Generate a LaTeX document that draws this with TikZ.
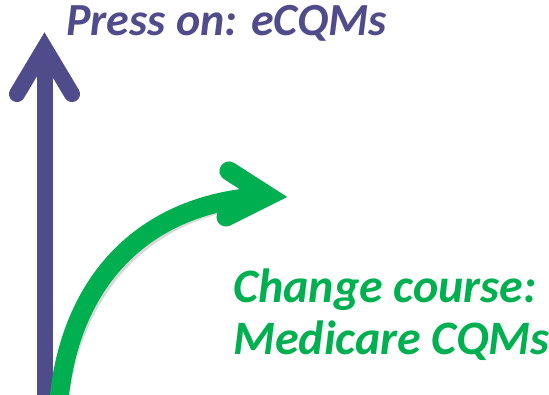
\documentclass[tikz,border=0pt]{standalone}
\usepackage{fontspec}
\setmainfont{Carlito}
\definecolor{vpurple}{RGB}{80,75,139}
\definecolor{vgreen}{RGB}{0,176,80}
\tikzset{
  shaftline/.style={line width=#1, line cap=butt},
  headline/.style={line width=#1, line cap=round, line join=miter, miter limit=20},
  shadowcol/.style={draw=black, opacity=0.15},
  lbl/.style={inner sep=0pt, font=\bfseries\itshape\fontsize{#1}{#1}\selectfont}
}
\begin{document}
\begin{tikzpicture}[x=1pt,y=-1pt]
\useasboundingbox (0,0) rectangle (549,395);
% coordinates
\coordinate (pbot) at (44.5,400);
\coordinate (pv) at (44.5,48);
\coordinate (pb1) at (17,94);
\coordinate (pb2) at (72,94);
\coordinate (gbot) at (59,400);
\coordinate (gv) at (268,196);
\coordinate (gb1) at (229,171);
\coordinate (gb2) at (226,217);
% shadows
\begin{scope}[shift={(3,3)}]
  \draw[shadowcol, shaftline=16] (pbot) -- (pv);
  \draw[shadowcol, headline=16] (pb1) -- (pv) -- (pb2);
  \draw[shadowcol, shaftline=19] (gbot) .. controls (70,285) and (140,202) .. (gv);
  \draw[shadowcol, headline=19] (gb1) -- (gv) -- (gb2);
\end{scope}
% purple arrow
\draw[vpurple, shaftline=16] (pbot) -- (pv);
\draw[vpurple, headline=16] (pb1) -- (pv) -- (pb2);
% green arrow
\draw[vgreen, shaftline=19] (gbot) .. controls (70,285) and (140,202) .. (gv);
\draw[vgreen, headline=19] (gb1) -- (gv) -- (gb2);
% texts
\node[lbl=46, text=vpurple, anchor=base west] (t1) at (66,36) {Press on: eCQMs};
\node[lbl=48, text=vgreen, anchor=base west] (t2) at (233,303) {Change course:};
\node[lbl=48, text=vgreen, anchor=base west] (t3) at (233,355) {Medicare CQMs};
\end{tikzpicture}
\end{document}
